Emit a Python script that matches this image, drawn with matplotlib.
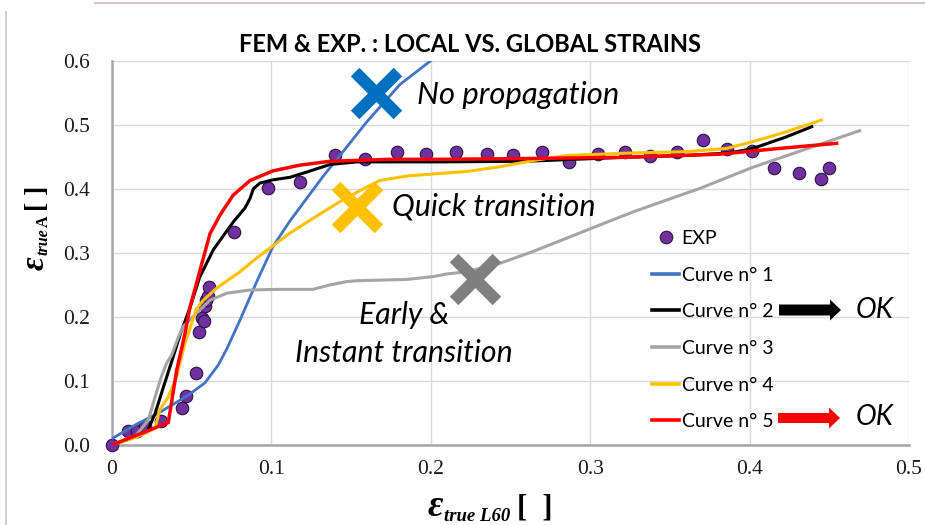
import matplotlib
matplotlib.use("Agg")
import matplotlib.pyplot as plt
from matplotlib.lines import Line2D
from matplotlib.patches import Polygon
from matplotlib.path import Path
from matplotlib.markers import MarkerStyle
import numpy as np

# ---- experimental points ----
exp_x = [0.0, 0.0098, 0.0154, 0.021, 0.031, 0.0437, 0.0464, 0.0524, 0.0545, 0.0562,
         0.0577, 0.0583, 0.059, 0.0604, 0.0608, 0.0765, 0.098, 0.118, 0.14, 0.1587,
         0.1786, 0.1967, 0.2155, 0.235, 0.2517, 0.2695, 0.2868, 0.3046, 0.3218, 0.3375,
         0.3542, 0.3709, 0.3856, 0.4017, 0.4155, 0.4312, 0.4448, 0.4496]
exp_y = [0.0, 0.022, 0.022, 0.030, 0.038, 0.057, 0.076, 0.113, 0.177, 0.199,
         0.193, 0.217, 0.227, 0.233, 0.246, 0.333, 0.402, 0.411, 0.4526, 0.446,
         0.457, 0.454, 0.457, 0.455, 0.4526, 0.457, 0.4425, 0.455, 0.458, 0.451,
         0.458, 0.476, 0.462, 0.459, 0.433, 0.424, 0.416, 0.433]

# ---- FEM curves ----
c1_x = [0.0, 0.0165, 0.027, 0.0374, 0.0479, 0.0583, 0.0667, 0.072, 0.0803, 0.0908,
        0.101, 0.1117, 0.1326, 0.143, 0.16, 0.1807, 0.2, 0.205]
c1_y = [0.01, 0.034, 0.047, 0.062, 0.078, 0.097, 0.125, 0.15, 0.195, 0.255,
        0.31, 0.35, 0.42, 0.452, 0.505, 0.563, 0.6, 0.61]

c2_x = [0.0, 0.015, 0.022, 0.027, 0.0322, 0.0374, 0.0427, 0.049, 0.055, 0.0636,
        0.076, 0.0834, 0.0866, 0.0887, 0.0928, 0.101, 0.1117, 0.122, 0.1368, 0.1535,
        0.206, 0.26, 0.30, 0.3187, 0.36, 0.381, 0.392, 0.402, 0.423, 0.439]
c2_y = [0.0, 0.013, 0.02, 0.049, 0.09, 0.13, 0.172, 0.215, 0.262, 0.305,
        0.348, 0.37, 0.385, 0.40, 0.409, 0.414, 0.418, 0.426, 0.438, 0.442,
        0.442, 0.443, 0.447, 0.449, 0.452, 0.455, 0.458, 0.463, 0.481, 0.497]

c3_x = [0.0, 0.015, 0.0228, 0.027, 0.031, 0.0343, 0.0374, 0.0416, 0.0447, 0.053,
        0.0615, 0.072, 0.0866, 0.105, 0.126, 0.1368, 0.147, 0.1535, 0.185, 0.2016,
        0.21, 0.2225, 0.2434, 0.264, 0.285, 0.306, 0.327, 0.348, 0.369, 0.402,
        0.4337, 0.469]
c3_y = [0.0, 0.015, 0.039, 0.075, 0.107, 0.128, 0.14, 0.168, 0.185, 0.206,
        0.226, 0.237, 0.242, 0.243, 0.243, 0.25, 0.255, 0.2565, 0.2585, 0.263,
        0.267, 0.2706, 0.2837, 0.302, 0.3227, 0.3435, 0.364, 0.3825, 0.4008, 0.4336,
        0.4606, 0.4907]

c4_x = [0.0, 0.015, 0.022, 0.027, 0.030, 0.0353, 0.0406, 0.0458, 0.05, 0.053,
        0.0573, 0.0657, 0.080, 0.0908, 0.1117, 0.1326, 0.143, 0.1577, 0.168, 0.185,
        0.206, 0.2225, 0.2434, 0.264, 0.285, 0.327, 0.3605, 0.3856, 0.402, 0.423,
        0.445]
c4_y = [0.0, 0.012, 0.02, 0.026, 0.055, 0.075, 0.107, 0.159, 0.19, 0.213,
        0.226, 0.245, 0.27, 0.292, 0.331, 0.364, 0.380, 0.40, 0.413, 0.42,
        0.424, 0.427, 0.4345, 0.444, 0.452, 0.456, 0.458, 0.463, 0.4735, 0.489,
        0.5074]

c5_x = [0.0, 0.0353, 0.0406, 0.0458, 0.049, 0.053, 0.0552, 0.0615, 0.068, 0.076,
        0.0866, 0.101, 0.118, 0.137, 0.174, 0.206, 0.25, 0.3187, 0.381, 0.402,
        0.423, 0.4546]
c5_y = [0.0, 0.035, 0.117, 0.174, 0.216, 0.252, 0.273, 0.33, 0.36, 0.39,
        0.413, 0.428, 0.437, 0.443, 0.446, 0.446, 0.447, 0.449, 0.454, 0.459,
        0.464, 0.471]

curve_labels = ["Curve n° 1", "Curve n° 2", "Curve n° 3", "Curve n° 4", "Curve n° 5"]
curve_colors = ["#4472C4", "#000000", "#A5A5A5", "#FFC000", "#FF0000"]

# ---- annotation markers (cross) and their captions ----
cross_x = [0.1656, 0.1535, 0.2277]
cross_y = [0.549, 0.372, 0.2587]
cross_colors = ["#0070C0", "#FFC000", "#7F7F7F"]

W, H = 925, 525
fig = plt.figure(figsize=(W / 100, H / 100), dpi=100)
fig.patch.set_facecolor("white")


def fpx(x, y):
    return (x / W, 1 - y / H)


left, right, top, bottom = 112, 909, 60.7, 445
ax = fig.add_axes([left / W, 1 - bottom / H, (right - left) / W, (bottom - top) / H])
ax.set_xlim(0, 0.5)
ax.set_ylim(0, 0.6)
ax.set_xticks([0, 0.1, 0.2, 0.3, 0.4, 0.5])
ax.set_xticklabels(["0", "0.1", "0.2", "0.3", "0.4", "0.5"])
ax.set_yticks([0, 0.1, 0.2, 0.3, 0.4, 0.5, 0.6])
ax.set_yticklabels(["0.0", "0.1", "0.2", "0.3", "0.4", "0.5", "0.6"])
ax.tick_params(length=0, labelsize=15.5, colors="#1a1a1a")
ax.tick_params(axis="y", pad=16)
ax.tick_params(axis="x", pad=11)
for lab in ax.get_xticklabels() + ax.get_yticklabels():
    lab.set_fontfamily("Liberation Serif")
ax.grid(True, color="#D9D9D9", linewidth=1.0)
ax.set_axisbelow(True)
for s in ["top", "right"]:
    ax.spines[s].set_visible(False)
for s in ["left", "bottom"]:
    ax.spines[s].set_color("#A6A6A6")
    ax.spines[s].set_linewidth(1.8)

# data
ax.plot(exp_x, exp_y, linestyle="none", marker="o", markersize=9,
        markerfacecolor="#7030A0", markeredgecolor="#2a1440", markeredgewidth=0.8,
        zorder=3, clip_on=False)
curves = [(c1_x, c1_y), (c2_x, c2_y), (c3_x, c3_y), (c4_x, c4_y), (c5_x, c5_y)]
widths = [2.0, 2.2, 2.2, 2.2, 2.5]
for (cx, cy), col, lw in zip(curves, curve_colors, widths):
    ax.plot(cx, cy, color=col, linewidth=lw, solid_joinstyle="round", zorder=4)

# cross markers: rotated plus-shaped polygon
a = 0.2
plus = np.array([(a, a), (a, 1), (-a, 1), (-a, a), (-1, a), (-1, -a), (-a, -a),
                 (-a, -1), (a, -1), (a, -a), (1, -a), (1, a), (a, a)])
c, s_ = np.cos(np.pi / 4), np.sin(np.pi / 4)
rot = plus @ np.array([[c, s_], [-s_, c]])
cross_marker = MarkerStyle(Path(rot, closed=True))
for cx, cy, col in zip(cross_x, cross_y, cross_colors):
    ax.plot([cx], [cy], linestyle="none", marker=cross_marker, markersize=37,
            markerfacecolor=col, markeredgecolor="none", zorder=6)

note_font = ["Lato", "DejaVu Sans"]
ax.text(0.1912, 0.546, "No propagation", fontsize=22.3, style="italic",
        family=note_font, va="center", ha="left", zorder=7)
ax.text(0.1757, 0.372, "Quick transition", fontsize=22, style="italic",
        family=note_font, va="center", ha="left", zorder=7)
ax.text(0.1832, 0.1733, "Early &\nInstant transition", fontsize=21.8, style="italic",
        family=note_font, va="center", ha="center", linespacing=1.4, zorder=7)

# legend
handles = [Line2D([], [], linestyle="none", marker="o", markersize=9,
                  markerfacecolor="#7030A0", markeredgecolor="#2a1440",
                  markeredgewidth=0.8)]
for col in curve_colors:
    handles.append(Line2D([], [], color=col, linewidth=2.6))
leg = ax.legend(handles, ["EXP"] + curve_labels, loc="upper left",
                bbox_to_anchor=((652 - left) / (right - left), (bottom - 230) / (bottom - top)),
                frameon=False, borderpad=0, borderaxespad=0, handlelength=1.4,
                handletextpad=0.12, labelspacing=1.01,
                prop={"family": note_font, "size": 14})
leg.set_zorder(8)

# arrows next to the selected curves
def arrow(x0, x_base, x_tip, yc, body_h, head_h, color):
    pts = [(x0, yc - body_h / 2), (x_base, yc - body_h / 2), (x_base, yc - head_h / 2),
           (x_tip, yc), (x_base, yc + head_h / 2), (x_base, yc + body_h / 2),
           (x0, yc + body_h / 2)]
    fig.add_artist(Polygon([fpx(*p) for p in pts], closed=True, facecolor=color,
                           edgecolor="none", transform=fig.transFigure))

arrow(779, 830, 841, 310, 11, 21, "#000000")
arrow(778, 829, 840, 418, 10, 21, "#FF0000")
fig.text(*fpx(856, 310), "OK", fontsize=20, style="italic", family=note_font,
         va="center", ha="left")
fig.text(*fpx(856, 417), "OK", fontsize=20, style="italic", family=note_font,
         va="center", ha="left")

# title
fig.text(*fpx(470, 45), "FEM & EXP. : LOCAL VS. GLOBAL STRAINS", fontsize=17,
         fontweight="bold", family=note_font, ha="center", va="center")

# axis labels: large epsilon, small subscript, large brackets
renderer = fig.canvas.get_renderer()
serif = "Liberation Serif"


def label_run(x0, y0, pieces, vertical=False):
    """Lay out text pieces along one baseline, in pixels (y downwards)."""
    pos = x0 if not vertical else y0
    for txt, size, style, shift, gap in pieces:
        if vertical:
            pos -= gap
            xy = fpx(x0 + shift, pos)
            t = fig.text(*xy, txt, fontsize=size, style=style, fontweight="bold",
                         family=serif, rotation=90, rotation_mode="anchor",
                         ha="left", va="baseline")
            ext = t.get_window_extent(renderer)
            pos -= ext.height
        else:
            pos += gap
            xy = fpx(pos, y0 + shift)
            t = fig.text(*xy, txt, fontsize=size, style=style, fontweight="bold",
                         family=serif, ha="left", va="baseline")
            ext = t.get_window_extent(renderer)
            pos += ext.width


label_run(428, 516, [("ε", 27, "italic", 0, 0),
                     ("true L60", 13.5, "italic", 5, 1),
                     ("[  ]", 22, "normal", 0, 6)])
label_run(44, 270, [("ε", 24, "italic", 0, 0),
                    ("true", 11.5, "italic", 4, 1),
                    ("A", 11.5, "normal", 4, 2),
                    ("[ ]", 20, "normal", 0, 4)], vertical=True)

# outer frame lines
fig.add_artist(Line2D([6 / W, 6 / W], [0, 1 - 12 / H], color="#C8C8C8", linewidth=1.2,
                      transform=fig.transFigure))
fig.add_artist(Line2D([95 / W, 1], [1 - 2.5 / H, 1 - 2.5 / H], color="#D9C4CC",
                      linewidth=1.5, transform=fig.transFigure))

fig.savefig("out.png", dpi=100)
